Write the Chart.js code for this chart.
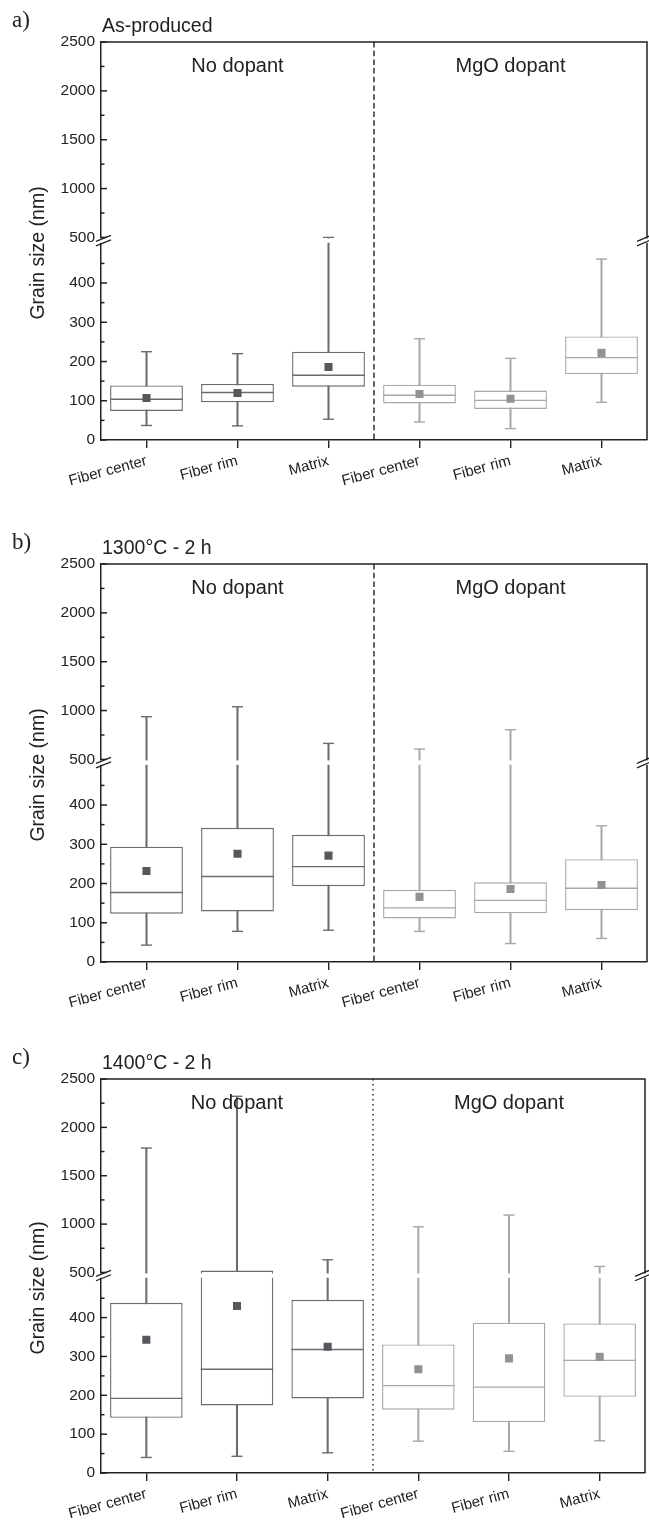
<!DOCTYPE html>
<html>
<head>
<meta charset="utf-8">
<script src="https://cdn.jsdelivr.net/npm/chart.js@4.4.1/dist/chart.umd.min.js"></script>
<style>
    html, body { margin: 0; padding: 0; background: #fff; }
    body { width: 649px; height: 1529px; position: relative; overflow: hidden; }
    canvas { position: absolute; left: 0; }
</style>
</head>
<body>
<canvas id="panelA" width="649" height="505" style="top:0px"></canvas>
<canvas id="panelB" width="649" height="505" style="top:505px"></canvas>
<canvas id="panelC" width="649" height="519" style="top:1010px"></canvas>
<script>
(function () {

    var categories = ["Fiber center", "Fiber rim", "Matrix", "Fiber center", "Fiber rim", "Matrix"];
    var groupNames = ["No dopant", "MgO dopant"];
    var panelLetters = ["a)", "b)", "c)"];
    var panelTitles = ["As-produced", "1300\u00B0C - 2 h", "1400\u00B0C - 2 h"];
    var yMajorTicks = [0, 100, 200, 300, 400, 500, 1000, 1500, 2000, 2500];
    var yMinorTicks = [50, 150, 250, 350, 450, 750, 1250, 1750, 2250];
    var yBreak = 500;

    // a) As-produced
    var minA = [37, 36, 53, 46, 29, 96];
    var q1A = [74, 96, 136, 93, 79, 168];
    var medianA = [104, 121, 165, 114, 101, 210];
    var q3A = [139, 143, 225, 141, 126, 264];
    var maxA = [225, 220, 500, 258, 208, 461];
    var meanA = [107, 120, 186, 117, 105, 222];

    // b) 1300°C - 2 h
    var minB = [43, 78, 81, 78, 47, 60];
    var q1B = [123, 129, 193, 111, 124, 132];
    var medianB = [177, 218, 243, 138, 157, 188];
    var q3B = [294, 342, 324, 184, 203, 262];
    var maxB = [937, 1039, 664, 606, 804, 347];
    var meanB = [232, 276, 271, 166, 186, 196];

    // c) 1400°C - 2 h
    var minC = [40, 43, 52, 82, 56, 83];
    var q1C = [142, 174, 192, 163, 131, 196];
    var medianC = [192, 267, 318, 225, 221, 290];
    var q3C = [438, 520, 446, 331, 387, 385];
    var maxC = [1786, 2321, 631, 972, 1093, 562];
    var meanC = [343, 430, 325, 267, 295, 299];

    var SANS = "'Liberation Sans', Arial, sans-serif";
    var SERIF = "'Liberation Serif', 'Times New Roman', serif";
    var INK = "#222";
    var darkLine = "#6c6c6c", lightLine = "#a8a8a8";
    var darkMean = "#56585d", lightMean = "#929292";

    // linear axis with a break: lower part 0..break, upper part break..max compressed
    class BrokenScale extends Chart.LinearScale {
        buildTicks() {
            return yMajorTicks.concat(yMinorTicks).sort(function (a, b) { return a - b; })
                .map(function (v) { return { value: v }; });
        }
        unitFor(v) {
            var b = this.options.brk;
            if (v < b.at) return v / b.at * b.lower;
            return b.lower + b.gap + (v - b.at) / (this.max - b.at) * (1 - b.lower - b.gap);
        }
        getPixelForValue(v) {
            return this.bottom - this.unitFor(v) * (this.bottom - this.top);
        }
        getValueForPixel(p) {
            var b = this.options.brk;
            var u = (this.bottom - p) / (this.bottom - this.top);
            if (u <= b.lower) return u / b.lower * b.at;
            return b.at + (u - b.lower - b.gap) / (1 - b.lower - b.gap) * (this.max - b.at);
        }
    }
    BrokenScale.id = "broken";
    BrokenScale.defaults = {};
    Chart.register(BrokenScale);

    function byGroup(dark, light) {
        return function (c) { return c.dataIndex < 3 ? dark : light; };
    }

    function pairs(lo, hi) {
        return lo.map(function (v, i) { return [v, hi[i]]; });
    }

    function decorPlugin(idx, dash) {
        return {
            id: "decor" + idx,
            afterDraw: function (chart) {
                var ctx = chart.ctx, a = chart.chartArea;
                var x = chart.scales.x, y = chart.scales.y;
                var brk = y.options.brk;
                ctx.save();
                ctx.strokeStyle = INK;
                ctx.lineWidth = 1.5;

                // top and right frame
                ctx.beginPath();
                ctx.moveTo(a.left, a.top);
                ctx.lineTo(a.right, a.top);
                ctx.lineTo(a.right, a.bottom);
                ctx.stroke();

                // inward ticks
                y.ticks.forEach(function (t, i) {
                    var py = y.getPixelForTick(i);
                    var len = yMajorTicks.indexOf(t.value) >= 0 ? 6 : 3.5;
                    ctx.beginPath();
                    ctx.moveTo(a.left, py);
                    ctx.lineTo(a.left + len, py);
                    ctx.stroke();
                });

                // gap of the broken axis
                var yHi = y.getPixelForValue(yBreak);
                var yLo = y.bottom - brk.lower * (y.bottom - y.top);
                ctx.fillStyle = "#fff";
                ctx.fillRect(a.left - 3, yHi + 1, a.right - a.left + 6, yLo - yHi - 2);

                // group separator
                var sx = (x.getPixelForValue(2) + x.getPixelForValue(3)) / 2;
                ctx.setLineDash(dash);
                ctx.lineWidth = 1.4;
                ctx.beginPath();
                ctx.moveTo(sx, a.top);
                ctx.lineTo(sx, a.bottom);
                ctx.stroke();
                ctx.setLineDash([]);

                // break marks
                ctx.lineWidth = 1.3;
                [[a.left - 5, a.left + 10], [a.right - 10, a.right + 4]].forEach(function (span) {
                    [yHi + 1, yLo - 1].forEach(function (by) {
                        ctx.beginPath();
                        ctx.moveTo(span[0], by + 3);
                        ctx.lineTo(span[1], by - 3);
                        ctx.stroke();
                    });
                });

                // texts
                ctx.fillStyle = INK;
                ctx.textAlign = "center";
                ctx.textBaseline = "alphabetic";
                ctx.font = "20px " + SANS;
                ctx.fillText(groupNames[0], x.getPixelForValue(1), a.top + 30);
                ctx.fillText(groupNames[1], x.getPixelForValue(4), a.top + 30);

                ctx.textAlign = "left";
                ctx.font = "19.5px " + SANS;
                ctx.fillText(panelTitles[idx], a.left + 1, a.top - 10);
                ctx.font = "23px " + SERIF;
                ctx.fillText(panelLetters[idx], 12, a.top - 15);

                ctx.save();
                ctx.translate(39, a.top + 0.53 * (a.bottom - a.top));
                ctx.rotate(-Math.PI / 2);
                ctx.textAlign = "center";
                ctx.textBaseline = "middle";
                ctx.font = "19.5px " + SANS;
                ctx.fillText("Grain size (nm)", 0, 0);
                ctx.restore();

                ctx.restore();
            }
        };
    }

    function makePanel(canvasId, idx, lo, q1, med, q3, hi, mean, layout) {
        var canvas = document.getElementById(canvasId);
        var medianHalf = function (c) {
            return c.chart.scales.x.width / categories.length * 0.8 / 2;
        };
        return new Chart(canvas.getContext("2d"), {
            type: "bar",
            data: {
                labels: categories,
                datasets: [
                    {
                        label: "whisker",
                        data: pairs(lo, hi),
                        backgroundColor: byGroup(darkLine, lightLine),
                        borderWidth: 0,
                        barThickness: 1.4,
                        grouped: false,
                        order: 4
                    },
                    {
                        label: "box",
                        data: pairs(q1, q3),
                        backgroundColor: "#fff",
                        borderColor: byGroup(darkLine, lightLine),
                        borderWidth: 1.4,
                        borderSkipped: false,
                        barPercentage: 0.8,
                        categoryPercentage: 1,
                        grouped: false,
                        order: 3
                    },
                    {
                        type: "line", label: "min", data: lo, showLine: false,
                        pointStyle: "line", pointRadius: 5.5, pointBorderWidth: 1.4,
                        pointBorderColor: byGroup(darkLine, lightLine), order: 2
                    },
                    {
                        type: "line", label: "max", data: hi, showLine: false,
                        pointStyle: "line", pointRadius: 5.5, pointBorderWidth: 1.4,
                        pointBorderColor: byGroup(darkLine, lightLine), order: 2
                    },
                    {
                        type: "line", label: "median", data: med, showLine: false,
                        pointStyle: "line", pointRadius: medianHalf, pointBorderWidth: 1.4,
                        pointBorderColor: byGroup(darkLine, lightLine), order: 2
                    },
                    {
                        type: "line", label: "mean", data: mean, showLine: false,
                        pointStyle: "rect", pointRadius: 5.7, pointBorderWidth: 0,
                        pointBackgroundColor: byGroup(darkMean, lightMean), order: 1
                    }
                ]
            },
            options: {
                responsive: false,
                animation: false,
                events: [],
                layout: { autoPadding: false, padding: { top: layout.top, right: layout.right, left: 0, bottom: 0 } },
                plugins: { legend: { display: false }, tooltip: { enabled: false }, title: { display: false } },
                scales: {
                    x: {
                        type: "category",
                        offset: true,
                        grid: { display: true, drawOnChartArea: false, drawTicks: true, tickLength: 8, offset: false, color: INK, lineWidth: 1.4 },
                        border: { display: true, color: INK, width: 1.5 },
                        ticks: { minRotation: 15, maxRotation: 15, autoSkip: false, padding: 4, color: INK, font: { family: SANS, size: 15 } },
                        afterFit: function (s) {
                            s.height = layout.xHeight;
                            s.paddingLeft = 0;
                            s.paddingRight = 0;
                        }
                    },
                    y: {
                        type: "broken",
                        position: "left",
                        min: 0,
                        max: 2500,
                        brk: { at: yBreak, lower: 0.493, gap: 0.016 },
                        grid: { display: false, drawTicks: false },
                        border: { display: true, color: INK, width: 1.5 },
                        ticks: {
                            autoSkip: false, padding: 6, color: INK, font: { family: SANS, size: 15.5 },
                            callback: function (v) { return yMajorTicks.indexOf(v) >= 0 ? String(v) : ""; }
                        },
                        afterFit: function (s) { s.width = 101; }
                    }
                }
            },
            plugins: [decorPlugin(idx, layout.dash)]
        });
    }

    makePanel("panelA", 0, minA, q1A, medianA, q3A, maxA, meanA, { top: 42, right: 2, xHeight: 65, dash: [5.5, 3.2] });
    makePanel("panelB", 1, minB, q1B, medianB, q3B, maxB, meanB, { top: 59, right: 2, xHeight: 48, dash: [5.5, 3.2] });
    makePanel("panelC", 2, minC, q1C, medianC, q3C, maxC, meanC, { top: 69, right: 4, xHeight: 56, dash: [1.5, 3.5] });

})();
</script>
</body>
</html>
